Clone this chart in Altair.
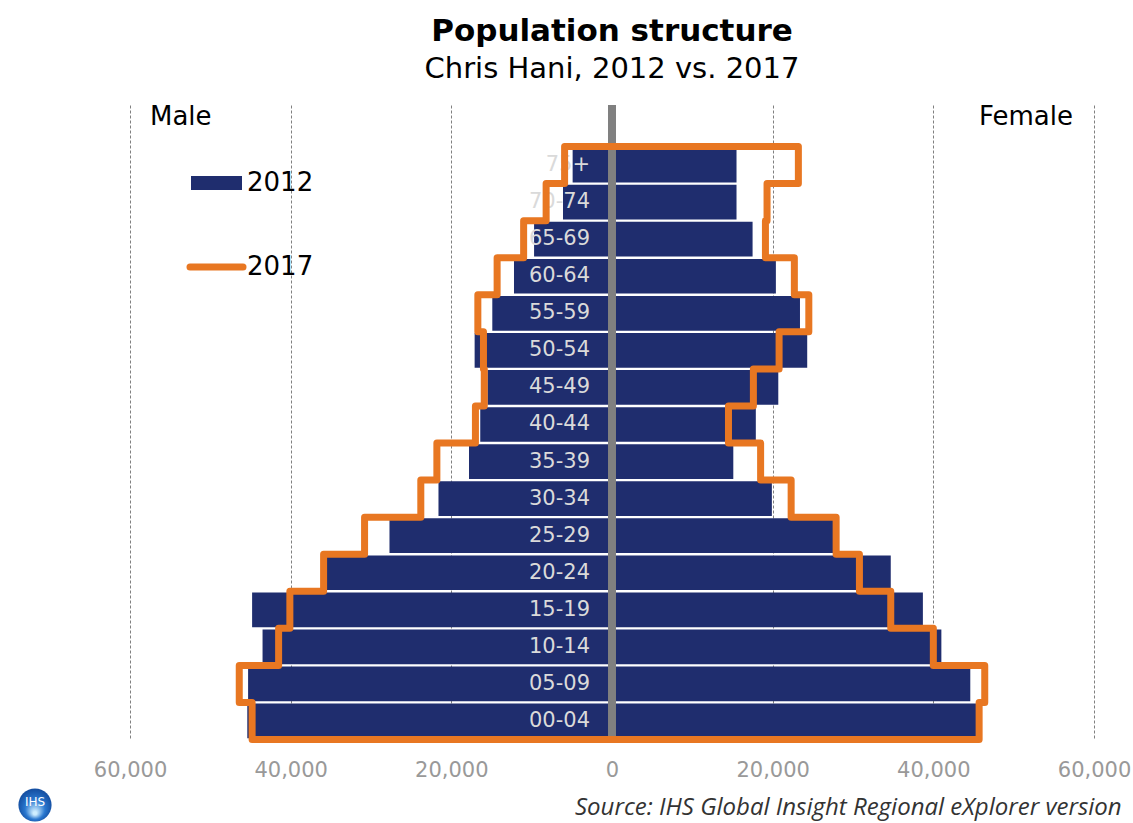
import altair as alt
import pandas as pd

ages = ["00-04", "05-09", "10-14", "15-19", "20-24", "25-29", "30-34", "35-39",
        "40-44", "45-49", "50-54", "55-59", "60-64", "65-69", "70-74", "75+"]
male_2012 = [45400, 45300, 43500, 44800, 35500, 27700, 21600, 17800,
             16400, 15500, 17100, 14900, 12200, 9700, 6100, 4900]
female_2012 = [45400, 44600, 41000, 38700, 34700, 27700, 19900, 15100,
               17900, 20700, 24300, 23400, 20400, 17500, 15500, 15500]
male_2017 = [44800, 46400, 41500, 40100, 35900, 30800, 23800, 21800,
             17000, 15900, 16000, 16700, 14300, 11000, 8200, 5900]
female_2017 = [45700, 46400, 40000, 34700, 30800, 27900, 22300, 18500,
               14500, 17600, 20800, 24500, 22700, 19100, 19300, 23200]
x_ticks = [-60000, -40000, -20000, 0, 20000, 40000, 60000]

NAVY = "#1f2d6e"
ORANGE = "#e87722"
FONT = "DejaVu Sans"

# bars (2012)
rows = []
for i, a in enumerate(ages):
    rows.append({"age": a, "idx": i, "sex": "Male", "value": -male_2012[i]})
    rows.append({"age": a, "idx": i, "sex": "Female", "value": female_2012[i]})
bars_df = pd.DataFrame(rows)

# step outline (2017)
pts = []
for i in range(len(ages)):
    pts.append((-male_2017[i], i - 0.5))
    pts.append((-male_2017[i], i + 0.5))
for i in reversed(range(len(ages))):
    pts.append((female_2017[i], i + 0.5))
    pts.append((female_2017[i], i - 0.5))
pts.append((-male_2017[0], -0.5))
line_df = pd.DataFrame({"x": [p[0] for p in pts], "y": [p[1] for p in pts],
                        "ord": list(range(len(pts)))})

labels_df = pd.DataFrame({"age": ages, "idx": list(range(len(ages)))})

xscale = alt.Scale(domain=[-60000, 60000], nice=False, zero=False)
yscale = alt.Scale(domain=[-0.5, 16.62], nice=False, zero=False)

xaxis = alt.Axis(values=x_ticks, labelExpr="format(abs(datum.value), ',')",
                 grid=True, gridDash=[3, 2], gridColor="#808080", gridWidth=1,
                 domain=False, ticks=False, labelColor="#999999",
                 labelFlush=False, labelBound=False, labelOverlap=False,
                 labelFont=FONT, labelFontSize=21, labelPadding=20, title=None)

bars = alt.Chart(bars_df).transform_calculate(
    y0="datum.idx - 0.468", y1="datum.idx + 0.468"
).mark_rect(color=NAVY).encode(
    x=alt.X("value:Q", scale=xscale, axis=xaxis),
    x2=alt.datum(0),
    y=alt.Y("y0:Q", scale=yscale, axis=None),
    y2="y1:Q",
)

center = alt.Chart(labels_df).mark_rule(color="#808080", strokeWidth=7).encode(
    x=alt.datum(0)
)

age_text = alt.Chart(labels_df).mark_text(
    align="right", baseline="middle", font=FONT, fontSize=21, color="#dadada"
).encode(
    x=alt.value(460),
    y=alt.Y("idx:Q", scale=yscale, axis=None),
    text="age:N",
)

outline = alt.Chart(line_df).mark_line(
    color=ORANGE, strokeWidth=7, strokeJoin="round", strokeCap="round"
).encode(
    x=alt.X("x:Q", scale=xscale),
    y=alt.Y("y:Q", scale=yscale),
    order="ord:Q",
)

one = pd.DataFrame({"k": [0]})
male_lbl = alt.Chart(one).mark_text(align="left", baseline="middle", font=FONT,
                                    fontSize=26, color="black", text="Male").encode(
    x=alt.value(20), y=alt.value(12))
female_lbl = alt.Chart(one).mark_text(align="right", baseline="middle", font=FONT,
                                      fontSize=26, color="black", text="Female").encode(
    x=alt.value(943), y=alt.value(12))

leg_rect = alt.Chart(one).mark_rect(color=NAVY).encode(
    x=alt.value(61), x2=alt.value(112), y=alt.value(71), y2=alt.value(85))
leg_line = alt.Chart(one).mark_rule(color=ORANGE, strokeWidth=7, strokeCap="round").encode(
    x=alt.value(60), x2=alt.value(113), y=alt.value(162))
leg_t1 = alt.Chart(one).mark_text(align="left", baseline="middle", font=FONT,
                                  fontSize=26, color="black", text="2012").encode(
    x=alt.value(117), y=alt.value(78))
leg_t2 = alt.Chart(one).mark_text(align="left", baseline="middle", font=FONT,
                                  fontSize=26, color="black", text="2017").encode(
    x=alt.value(117), y=alt.value(162))

source = alt.Chart(one).mark_text(align="left", baseline="alphabetic", font="Open Sans",
                                  fontSize=24, fontStyle="italic", color="#333333",
                                  text="Source: IHS Global Insight Regional eXplorer version").encode(
    x=alt.value(445), y=alt.value(710))

logo = alt.Chart(one).mark_circle(
    size=1100, opacity=1,
    color=alt.RadialGradient(gradient="radial", x1=0.5, y1=0.75, r1=0.05,
                             x2=0.5, y2=0.5, r2=0.6,
                             stops=[alt.GradientStop(color="#cfeeff", offset=0),
                                    alt.GradientStop(color="#2a78d0", offset=0.45),
                                    alt.GradientStop(color="#0d3f8f", offset=1)])
).encode(x=alt.value(-95), y=alt.value(700))
logo_t = alt.Chart(one).mark_text(align="center", baseline="middle", font=FONT,
                                  fontSize=12, color="white", text="IHS").encode(
    x=alt.value(-95), y=alt.value(697))

chart = alt.layer(
    bars, center, age_text, outline, male_lbl, female_lbl,
    leg_rect, leg_line, leg_t1, leg_t2, source, logo, logo_t
).properties(
    width=964, height=634.5,
    title=alt.TitleParams(
        text="Population structure", subtitle="Chris Hani, 2012 vs. 2017",
        anchor="middle", font=FONT, fontSize=31, fontWeight="bold", color="black",
        subtitleFont=FONT, subtitleFontSize=29, subtitleColor="black",
        subtitlePadding=7, offset=17,
    ),
    autosize=alt.AutoSizeParams(type="none"),
    padding={"left": 130, "top": 105, "right": 39, "bottom": 83.5},
    background="white",
).configure_view(stroke=None)

chart.save("out.html", embed_options={"renderer": "svg", "actions": False})
